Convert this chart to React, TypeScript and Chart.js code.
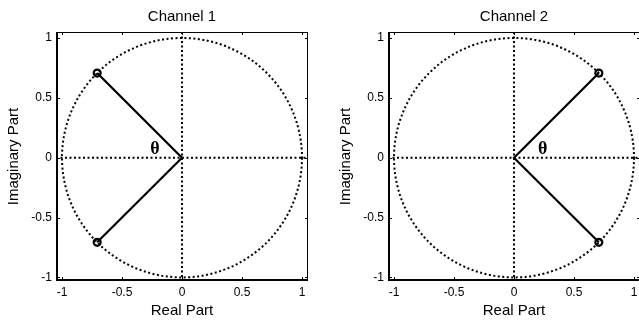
import React, { useEffect, useRef } from "react";
import { Chart, registerables } from "chart.js";

Chart.register(...registerables);

// ---- data ----
const tickValues = [-1, -0.5, 0, 0.5, 1];
const tickLabels = ["-1", "-0.5", "0", "0.5", "1"];
const channelTitles = ["Channel 1", "Channel 2"];
const originPoint = [0, 0];
const ch1PoleReal = [-0.707, -0.707];
const ch1PoleImag = [0.707, -0.707];
const ch2PoleReal = [0.707, 0.707];
const ch2PoleImag = [0.707, -0.707];
const ch1ThetaPos = [-0.225, 0.072];
const ch2ThetaPos = [0.24, 0.072];
const unitCircleRadius = 1;
const xLimits = [-1.05, 1.05];
const yLimits = [-1.03, 1.05];
const xAxisTitle = "Real Part";
const yAxisTitle = "Imaginary Part";
const thetaLabel = "θ";

const FONT = "'Liberation Sans', Arial, sans-serif";

function makeDecor(thetaPos: number[]) {
  return {
    id: "zplaneDecor",
    beforeDatasetsDraw(chart: any) {
      const { ctx, chartArea, scales } = chart;
      const x = scales.x;
      const y = scales.y;
      ctx.save();
      ctx.strokeStyle = "#000";
      ctx.lineWidth = 2;
      ctx.lineCap = "butt";
      ctx.setLineDash([2, 2.5]);
      const cx = x.getPixelForValue(originPoint[0]);
      const cy = y.getPixelForValue(originPoint[1]);
      const rx = Math.abs(x.getPixelForValue(unitCircleRadius) - cx);
      const ry = Math.abs(y.getPixelForValue(unitCircleRadius) - cy);
      ctx.beginPath();
      ctx.ellipse(cx, cy, rx, ry, 0, 0, Math.PI * 2);
      ctx.stroke();
      ctx.beginPath();
      ctx.moveTo(chartArea.left, cy);
      ctx.lineTo(chartArea.right, cy);
      ctx.stroke();
      ctx.beginPath();
      ctx.moveTo(cx, chartArea.top);
      ctx.lineTo(cx, chartArea.bottom);
      ctx.stroke();
      ctx.restore();
    },
    afterDatasetsDraw(chart: any) {
      const { ctx, chartArea, scales } = chart;
      const x = scales.x;
      const y = scales.y;
      const { left, right, top, bottom } = chartArea;
      ctx.save();
      ctx.strokeStyle = "#000";
      ctx.setLineDash([]);
      // box
      ctx.lineWidth = 1;
      ctx.beginPath();
      ctx.moveTo(left, Math.round(top) + 0.5);
      ctx.lineTo(right, Math.round(top) + 0.5);
      ctx.moveTo(Math.round(right) - 0.5, top);
      ctx.lineTo(Math.round(right) - 0.5, bottom);
      ctx.stroke();
      ctx.lineWidth = 2;
      ctx.beginPath();
      ctx.moveTo(Math.round(left) + 1, top);
      ctx.lineTo(Math.round(left) + 1, bottom);
      ctx.moveTo(left, Math.round(bottom) - 1);
      ctx.lineTo(right, Math.round(bottom) - 1);
      ctx.stroke();
      // inward ticks
      ctx.lineWidth = 1;
      const tl = 3;
      ctx.beginPath();
      tickValues.forEach((v) => {
        const px = Math.round(x.getPixelForValue(v)) + 0.5;
        ctx.moveTo(px, bottom);
        ctx.lineTo(px, bottom - tl - 1);
        ctx.moveTo(px, top);
        ctx.lineTo(px, top + tl);
        const py = Math.round(y.getPixelForValue(v)) + 0.5;
        ctx.moveTo(left, py);
        ctx.lineTo(left + tl + 1, py);
        ctx.moveTo(right, py);
        ctx.lineTo(right - tl, py);
      });
      ctx.stroke();
      // theta
      ctx.fillStyle = "#000";
      ctx.font = "bold 18px 'Liberation Serif', 'Times New Roman', serif";
      ctx.textAlign = "center";
      ctx.textBaseline = "middle";
      ctx.fillText(
        thetaLabel,
        x.getPixelForValue(thetaPos[0]),
        y.getPixelForValue(thetaPos[1])
      );
      ctx.restore();
    },
  };
}

function Panel(props: {
  left: number;
  title: string;
  poleReal: number[];
  poleImag: number[];
  thetaPos: number[];
}) {
  const ref = useRef<HTMLCanvasElement | null>(null);
  useEffect(() => {
    if (!ref.current) return;
    const { title, poleReal, poleImag, thetaPos } = props;
    const spokeData = [
      { x: poleReal[0], y: poleImag[0] },
      { x: originPoint[0], y: originPoint[1] },
      { x: poleReal[1], y: poleImag[1] },
    ];
    const tickFont = { family: FONT, size: 12 };
    const titleFont = { family: FONT, size: 15, weight: "normal" as const };
    const chart = new Chart(ref.current, {
      type: "scatter",
      data: {
        datasets: [
          {
            data: spokeData,
            showLine: true,
            borderColor: "#000",
            borderWidth: 2.2,
            pointRadius: [3.5, 0, 3.5],
            pointBorderWidth: 2.2,
            pointBorderColor: "#000",
            pointBackgroundColor: "rgba(0,0,0,0)",
            pointStyle: "circle",
          } as any,
        ],
      },
      options: {
        animation: false,
        responsive: false,
        events: [],
        layout: { padding: { top: 0, right: 12, bottom: 0, left: 0 } },
        plugins: {
          legend: { display: false },
          tooltip: { enabled: false },
          title: {
            display: true,
            text: title,
            fullSize: false,
            color: "#000",
            font: titleFont,
            padding: { top: 8, bottom: 6 },
          } as any,
        },
        scales: {
          x: {
            type: "linear",
            min: xLimits[0],
            max: xLimits[1],
            afterBuildTicks: (s: any) => {
              s.ticks = tickValues.map((v) => ({ value: v }));
            },
            afterFit: (s: any) => {
              s.height = 39;
            },
            grid: { display: false, drawTicks: false, tickLength: 0 },
            border: { display: false },
            ticks: {
              color: "#000",
              font: tickFont,
              padding: 4,
              maxRotation: 0,
              autoSkip: false,
              callback: (_v: any, i: number) => tickLabels[i],
            },
            title: {
              display: true,
              text: xAxisTitle,
              color: "#000",
              font: titleFont,
              padding: { top: 0, bottom: 0.5 },
            },
          },
          y: {
            type: "linear",
            min: yLimits[0],
            max: yLimits[1],
            afterBuildTicks: (s: any) => {
              s.ticks = tickValues.map((v) => ({ value: v }));
            },
            afterFit: (s: any) => {
              s.width = 56;
            },
            grid: { display: false, drawTicks: false, tickLength: 0 },
            border: { display: false },
            ticks: {
              color: "#000",
              font: tickFont,
              padding: 4,
              autoSkip: false,
              callback: (_v: any, i: number) => tickLabels[i],
            },
            title: {
              display: true,
              text: yAxisTitle,
              color: "#000",
              font: titleFont,
              padding: { top: 4.5, bottom: 0 },
            },
          },
        },
      } as any,
      plugins: [makeDecor(thetaPos)],
    });
    return () => chart.destroy();
  }, []);
  return (
    <canvas
      ref={ref}
      width={320}
      height={320}
      style={{ position: "absolute", left: props.left, top: 0, width: 320, height: 320 }}
    />
  );
}

export default function App() {
  return (
    <div
      style={{
        position: "fixed",
        left: 0,
        top: 0,
        width: 639,
        height: 320,
        overflow: "hidden",
        background: "#fff",
      }}
    >
      <Panel
        left={0}
        title={channelTitles[0]}
        poleReal={ch1PoleReal}
        poleImag={ch1PoleImag}
        thetaPos={ch1ThetaPos}
      />
      <Panel
        left={332}
        title={channelTitles[1]}
        poleReal={ch2PoleReal}
        poleImag={ch2PoleImag}
        thetaPos={ch2ThetaPos}
      />
    </div>
  );
}
